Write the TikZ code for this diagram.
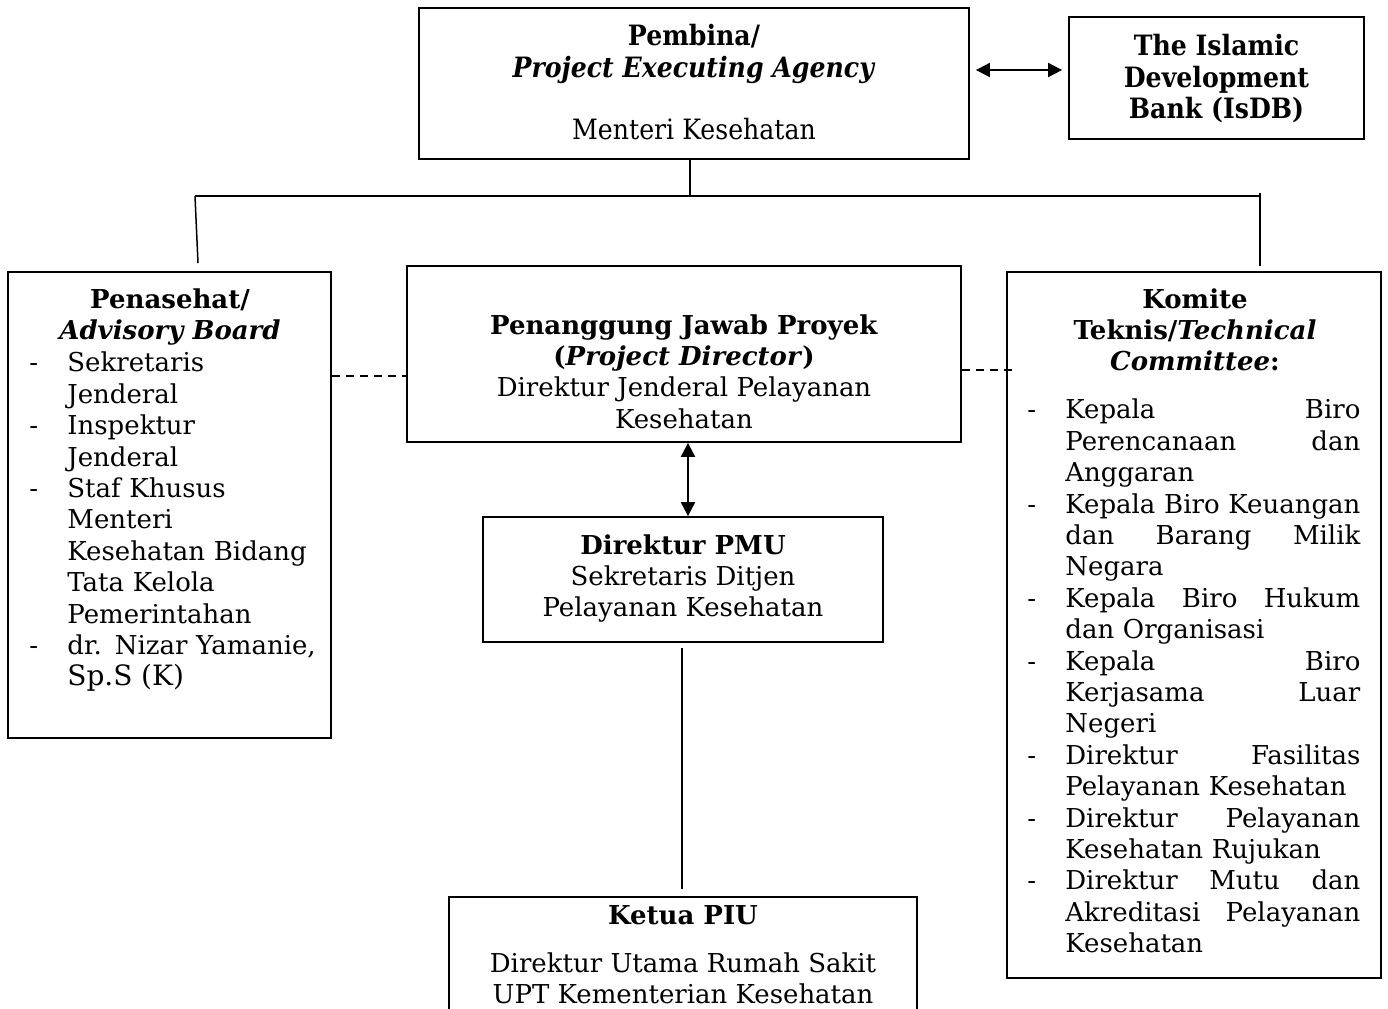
\documentclass[tikz,border=0pt]{standalone}
\usepackage{fontspec}
\setmainfont{DejaVu Serif}
\newfontfamily\narrowfont{DejaVu Serif}[FakeStretch=0.9]
\usetikzlibrary{arrows.meta,positioning}

\newlength{\listw}
\newcommand{\jl}[1]{\makebox[\listw][s]{\spaceskip=0pt\xspaceskip=0pt #1}}
\newcommand{\itm}[1]{\par\noindent\hangindent=19pt\hangafter=1\makebox[19pt][l]{-}#1\par}

\tikzset{
  box/.style={draw, line width=0.9pt, inner sep=0pt},
  txt/.style={inner sep=0pt, font=\fontsize{13}{15.7}\selectfont},
  narrow/.style={inner sep=0pt, font=\narrowfont\fontsize{14}{15.7}\selectfont},
  link/.style={line width=0.75pt},
  dline/.style={line width=0.75pt, dash pattern=on 4pt off 3pt},
  dlink/.style={line width=1pt, {Triangle[length=7pt,width=7pt]}-{Triangle[length=7pt,width=7pt]}},
}

\begin{document}
\begin{tikzpicture}[x=0.5pt, y=-0.5pt]
\useasboundingbox (0,0) rectangle (1388,1008);
\clip (0,0) rectangle (1388,1008);

% boxes
\node[box, minimum width=275pt, minimum height=75.5pt] (pembina) at (694,83.5) {};
\node[box, minimum width=147.5pt, minimum height=61pt] (isdb) at (1216.5,78) {};
\node[box, minimum width=161.5pt, minimum height=233pt] (penasehat) at (169.5,505) {};
\node[box, minimum width=277pt, minimum height=88pt] (pj) at (684,354) {};
\node[box, minimum width=187pt, minimum height=353pt] (komite) at (1194,625) {};
\node[box, minimum width=200pt, minimum height=62.5pt] (pmu) at (683,579.5) {};
\node[box, minimum width=234pt, minimum height=71.5pt] (ketua) at (683,968.5) {};

% texts
\node[narrow, anchor=north, align=center] (pembinatxt) at (694,24)
  {\textbf{Pembina/}\\\textbf{\textit{Project Executing Agency}}\\[15.5pt]Menteri Kesehatan};
\node[narrow, anchor=north, align=center] (isdbtxt) at (1216.5,34)
  {\textbf{The Islamic}\\\textbf{Development}\\\textbf{Bank (IsDB)}};
\node[txt, anchor=north, align=center] (penasehattitle) at (170,288)
  {\textbf{Penasehat/}\\\textbf{\textit{Advisory Board}}};
\node[txt, anchor=north west, align=left, text width=160pt] (penasehatlist) at (29,340) {%
  \itm{Sekretaris\newline Jenderal}
  \itm{Inspektur\newline Jenderal}
  \itm{Staf Khusus\newline Menteri\newline Kesehatan Bidang\newline Tata Kelola\newline Pemerintahan}
  \itm{dr. Nizar Yamanie,\newline{\fontsize{14}{17}\selectfont Sp.S (K)}}};
\node[txt, anchor=north, align=center] (pjtxt) at (684,314)
  {\textbf{Penanggung Jawab Proyek}\\\textbf{(\textit{Project Director})}\\Direktur Jenderal Pelayanan\\Kesehatan};
\node[txt, anchor=north, align=center] (pmutxt) at (683,534)
  {\textbf{Direktur PMU}\\Sekretaris Ditjen\\Pelayanan Kesehatan};
\node[txt, anchor=north, align=center] (ketuatxt) at (683,905)
  {\textbf{Ketua PIU}\\[8.3pt]Direktur Utama Rumah Sakit\\UPT Kementerian Kesehatan};
\node[txt, anchor=north, align=center] (komitetitle) at (1195,288)
  {\textbf{Komite}\\\textbf{Teknis/\textit{Technical}}\\\textbf{\textit{Committee}:}};
\node[txt, anchor=north west, align=left, text width=166.5pt] (komitelist) at (1027,387) {%
  \setlength{\listw}{147.5pt}%
  \itm{\jl{Kepala Biro}\newline\jl{Perencanaan dan}\newline Anggaran}
  \itm{\jl{Kepala Biro Keuangan}\newline\jl{dan Barang Milik}\newline Negara}
  \itm{\jl{Kepala Biro Hukum}\newline dan Organisasi}
  \itm{\jl{Kepala Biro}\newline\jl{Kerjasama Luar}\newline Negeri}
  \itm{\jl{Direktur Fasilitas}\newline Pelayanan Kesehatan}
  \itm{\jl{Direktur Pelayanan}\newline Kesehatan Rujukan}
  \itm{\jl{Direktur Mutu dan}\newline\jl{Akreditasi Pelayanan}\newline Kesehatan}};

% connectors
\coordinate (arrY) at (0,70);
\draw[dlink, shorten <=3pt, shorten >=3pt] (pembina.east |- arrY) -- (isdb.west |- arrY);
\coordinate (busL) at (195,196);
\coordinate (busR) at (1260,196);
\draw[link] ([xshift=-2pt]pembina.south) -- ([xshift=-2pt]pembina.south |- busL);
\draw[link] (busL) -- (busR);
\coordinate (dropL) at (198,263);
\draw[link] (busL) -- (dropL);
\coordinate (dropR) at (1260,266);
\draw[link] ([yshift=1.5pt]busR) -- (dropR);
\coordinate (dashL) at (0,376);
\draw[dline] (penasehat.east |- dashL) -- (pj.west |- dashL);
\coordinate (dashR) at (1015,370);
\draw[dline] (pj.east |- dashR) -- (dashR);
\draw[dlink] ([xshift=2pt]pj.south) -- ([xshift=2.5pt]pmu.north);
\draw[link, shorten <=2.5pt, shorten >=3.5pt] ([xshift=-0.5pt]pmu.south) -- ([xshift=-0.5pt]ketua.north);
\end{tikzpicture}
\end{document}
